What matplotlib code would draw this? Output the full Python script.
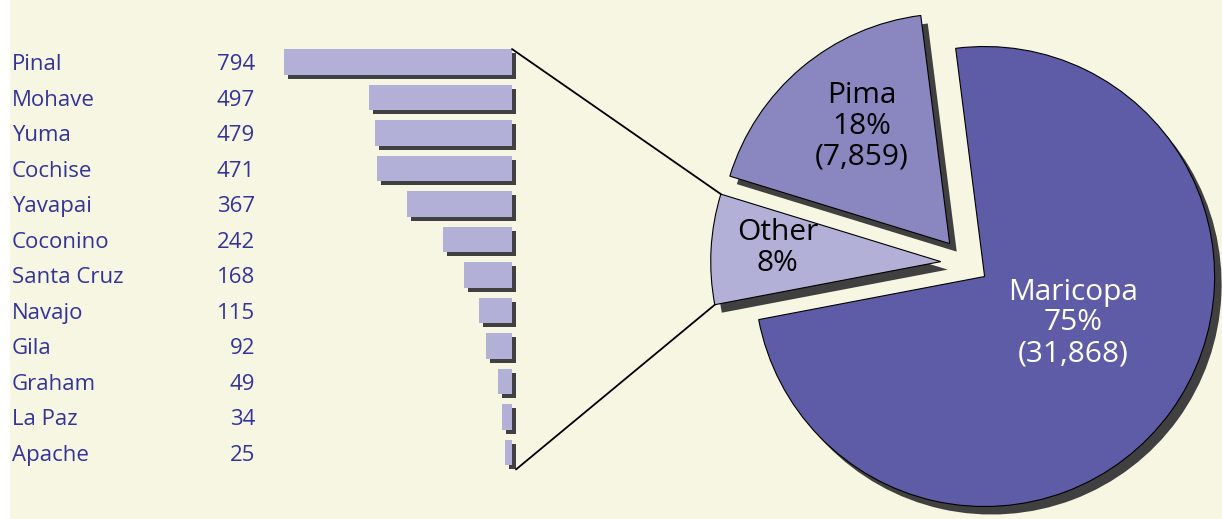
import numpy as np
import matplotlib
matplotlib.use("Agg")
import matplotlib.pyplot as plt
from matplotlib.patches import Rectangle, ConnectionPatch
from matplotlib.transforms import offset_copy, blended_transform_factory

# county counts outside Maricopa / Pima
counties = ["Pinal", "Mohave", "Yuma", "Cochise", "Yavapai", "Coconino",
            "Santa Cruz", "Navajo", "Gila", "Graham", "La Paz", "Apache"]
county_vals = [794, 497, 479, 471, 367, 242, 168, 115, 92, 49, 34, 25]

# pie pieces
pie_names = ["Maricopa", "Pima", "Other"]
pie_vals = [31868, 7859, sum(county_vals)]
pie_labels = ["Maricopa\n75%\n(31,868)", "Pima\n18%\n(7,859)", "Other\n8%"]

bg = "#f7f6e3"
shadow_col = "#404040"
text_blue = "#33339a"
bar_col = "#b3b0d8"
pie_cols = ["#5e5ca6", "#8a86c0", "#b3b0d8"]

plt.rcParams["font.family"] = ["Open Sans", "DejaVu Sans"]

W, H = 1222, 519
fig = plt.figure(figsize=(W / 100, H / 100), dpi=100, facecolor=bg)
fig.add_artist(Rectangle((0, 0), 9 / W, 1, transform=fig.transFigure,
                         color="white", zorder=0))

# ---- bar panel ----
ax = fig.add_axes([270 / W, 0, 242 / W, 1])
ax.set_facecolor("none")
ax.axis("off")
row = 35.5
pos = np.arange(len(counties))
shadow_tr = offset_copy(ax.transData, fig=fig, x=4, y=-4, units="dots")
sh = ax.barh(pos, county_vals, height=0.73, color=shadow_col, linewidth=0)
for b in sh:
    b.set_transform(shadow_tr)
    b.set_clip_on(False)
ax.barh(pos, county_vals, height=0.73, color=bar_col, linewidth=0)
ax.set_xlim(242 / 0.287, 0)
ax.set_ylim((H - 62) / row, -62 / row)

tr = blended_transform_factory(fig.transFigure, ax.transData)
for i, (name, v) in enumerate(zip(counties, county_vals)):
    ax.text(12 / W, i, name, transform=tr, ha="left", va="center_baseline",
            fontsize=16, color=text_blue, clip_on=False)
    ax.text(255 / W, i, str(v), transform=tr, ha="right", va="center_baseline",
            fontsize=16, color=text_blue, clip_on=False)

# ---- pie panel ----
r_px = 230
cx, cy = 966, H - 263
half = 300
pax = fig.add_axes([(cx - half) / W, (cy - half) / H, 2 * half / W, 2 * half / H])
pax.set_facecolor("none")
explode = [0.1, 0.11, 0.11]
start = 190.8

sw, _ = pax.pie(pie_vals, explode=explode, startangle=start, counterclock=True,
                colors=[shadow_col] * 3, wedgeprops=dict(linewidth=0))
pie_shadow = offset_copy(pax.transData, fig=fig, x=7, y=-8, units="dots")
for w in sw:
    w.set_transform(pie_shadow)
wedges, _ = pax.pie(pie_vals, explode=explode, startangle=start, counterclock=True,
                    colors=pie_cols,
                    wedgeprops=dict(linewidth=0.8, edgecolor="black"))
lim = half / r_px
pax.set_xlim(-lim, lim)
pax.set_ylim(-lim, lim)
pax.set_aspect("equal")
pax.axis("off")

label_xy = [(0.465, -0.26), (-0.455, 0.595), (-0.82, 0.065)]
label_col = ["white", "black", "black"]
for txt, (lx, ly), c in zip(pie_labels, label_xy, label_col):
    pax.text(lx, ly, txt, ha="center", va="center", fontsize=21.5,
             color=c, linespacing=1.08)

# ---- connector lines to the "Other" slice ----
ow = wedges[2]
mid = np.deg2rad((ow.theta1 + ow.theta2) / 2)
ox, oy = explode[2] * np.cos(mid), explode[2] * np.sin(mid)
# theta1 (~163 deg) is the upper corner, theta2 (~191 deg) the lower one
upper_pt = (ox + np.cos(np.deg2rad(ow.theta1)), oy + np.sin(np.deg2rad(ow.theta1)))
lower_pt = (ox + np.cos(np.deg2rad(ow.theta2)), oy + np.sin(np.deg2rad(ow.theta2)))

c1 = ConnectionPatch((0, -0.365), upper_pt, coordsA=ax.transData,
                     coordsB=pax.transData, color="black", linewidth=1.3)
c2 = ConnectionPatch((0, len(counties) - 1 + 0.365), lower_pt, coordsA=shadow_tr,
                     coordsB=pax.transData, color="black", linewidth=1.3)
fig.add_artist(c1)
fig.add_artist(c2)

fig.savefig("out.png", dpi=100, facecolor=bg)
